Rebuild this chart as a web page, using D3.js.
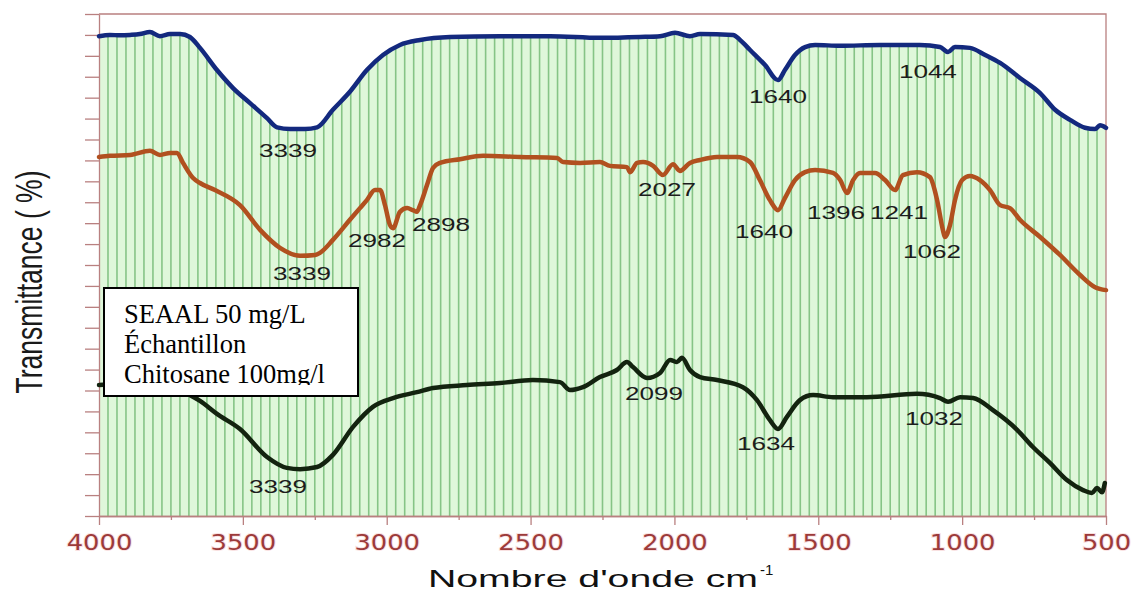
<!DOCTYPE html>
<html>
<head>
<meta charset="utf-8">
<script src="https://cdn.jsdelivr.net/npm/d3@7"></script>
<style>
  html, body { margin: 0; padding: 0; background: #fff; }
  #chart { width: 1133px; height: 593px; }
</style>
</head>
<body>
<div id="chart"></div>
<script>
// ---- data (wavenumber cm-1 / stacked transmittance units) ----
const blueWave = [4000, 3962, 3927, 3892, 3858, 3823, 3788, 3753, 3718, 3684, 3649, 3590, 3534, 3475, 3416, 3381, 3336, 3284, 3242, 3187, 3128, 3069, 3013, 2954, 2884, 2780, 2606, 2432, 2259, 2120, 2050, 1998, 1946, 1911, 1796, 1772, 1737, 1685, 1640, 1616, 1581, 1546, 1511, 1424, 1285, 1147, 1077, 1049, 1025, 973, 920, 868, 799, 729, 677, 625, 573, 538, 521, 500];
const blueValue = [114.7, 115.0, 114.9, 115.0, 115.2, 115.7, 114.7, 115.2, 115.2, 114.5, 111.9, 106.6, 102.3, 98.7, 95.1, 92.9, 92.5, 92.5, 92.9, 97.1, 101.4, 106.6, 110.2, 112.6, 113.8, 114.5, 114.7, 114.7, 114.3, 114.5, 114.7, 115.5, 114.7, 115.2, 115.0, 113.8, 111.4, 107.8, 104.2, 106.6, 110.2, 112.1, 112.6, 112.4, 112.6, 112.6, 112.1, 110.9, 112.1, 111.9, 110.2, 108.3, 104.7, 101.1, 97.1, 94.7, 92.8, 92.5, 93.4, 92.8];

const orangeWave = [4000, 3962, 3892, 3823, 3788, 3753, 3729, 3708, 3673, 3649, 3597, 3510, 3440, 3371, 3301, 3249, 3232, 3187, 3128, 3093, 3069, 3041, 3023, 3006, 2989, 2978, 2954, 2929, 2909, 2895, 2884, 2860, 2839, 2815, 2745, 2665, 2537, 2408, 2387, 2328, 2259, 2224, 2165, 2154, 2130, 2109, 2074, 2040, 2005, 1981, 1946, 1911, 1852, 1783, 1737, 1703, 1668, 1640, 1616, 1581, 1546, 1511, 1449, 1424, 1400, 1379, 1355, 1303, 1268, 1233, 1206, 1157, 1112, 1087, 1067, 1060, 1042, 1025, 1000, 973, 938, 903, 868, 834, 799, 729, 660, 590, 538, 500];
const orangeValue = [85.8, 86.1, 86.3, 87.3, 86.3, 86.8, 86.8, 84.4, 80.8, 79.6, 77.9, 74.3, 68.4, 64.1, 62.2, 62.4, 62.9, 66.0, 70.8, 73.6, 75.5, 77.9, 77.9, 74.3, 69.6, 68.8, 72.7, 73.6, 73.1, 72.7, 74.3, 79.1, 83.2, 84.4, 85.3, 86.1, 85.8, 85.6, 84.6, 84.4, 84.6, 83.7, 83.4, 82.2, 84.4, 84.6, 83.7, 81.5, 84.1, 82.5, 84.4, 85.1, 85.8, 85.8, 84.6, 80.3, 75.5, 73.1, 76.0, 80.3, 82.2, 82.7, 82.0, 80.3, 77.2, 80.3, 82.0, 82.0, 80.3, 77.9, 81.5, 82.2, 81.0, 75.5, 68.4, 66.7, 69.6, 75.5, 80.3, 81.3, 80.3, 77.9, 74.3, 73.6, 70.8, 66.7, 62.4, 57.6, 54.7, 54.0];

const blackWave = [4000, 3927, 3823, 3736, 3684, 3649, 3590, 3510, 3416, 3347, 3301, 3242, 3187, 3117, 3048, 2978, 2895, 2839, 2721, 2606, 2492, 2398, 2363, 2318, 2259, 2200, 2165, 2144, 2095, 2050, 2015, 1991, 1974, 1946, 1911, 1852, 1762, 1713, 1668, 1640, 1609, 1564, 1518, 1449, 1331, 1157, 1077, 1049, 1007, 962, 893, 809, 754, 695, 636, 580, 549, 531, 514, 504];
const blackValue = [31.3, 31.6, 32.0, 31.1, 28.9, 27.5, 24.4, 20.8, 14.1, 11.5, 11.2, 11.7, 14.6, 21.3, 26.1, 28.2, 29.6, 30.6, 31.3, 31.8, 32.5, 32.0, 30.1, 30.8, 33.2, 34.9, 36.8, 35.6, 33.0, 34.2, 37.3, 36.8, 37.8, 34.9, 33.2, 32.5, 30.8, 27.7, 22.9, 20.8, 23.7, 27.7, 28.9, 28.4, 28.4, 29.2, 28.2, 27.3, 28.4, 28.2, 25.3, 20.6, 16.5, 12.7, 8.6, 6.2, 5.5, 6.7, 5.7, 7.9];

// peak annotations: label text, wavenumber and value where the label sits
const peakText = ['3339', '1640', '1044', '3339', '2982', '2898', '2027', '1640', '1396', '1241', '1062', '3339', '2099', '1634', '1032'];
const peakWave = [3343, 1640, 1119, 3294, 3034, 2811, 2026, 1689, 1438, 1219, 1105, 3378, 2071, 1682, 1098];
const peakValue = [85.8, 98.7, 104.7, 56.4, 64.3, 68.1, 76.5, 66.5, 71.0, 71.0, 61.7, 5.5, 27.7, 15.8, 21.8];

const xMajorTicks = [4000, 3500, 3000, 2500, 2000, 1500, 1000, 500];
const xMinorTicks = [3750, 3250, 2750, 2250, 1750, 1250, 750];
const legendLines = ['SEAAL 50 mg/L', 'Échantillon', 'Chitosane 100mg/l'];

class Chart {
    constructor() {
        const attrs = {
            svgWidth: 1133,
            svgHeight: 593,
            marginTop: 14,
            marginBottom: 77,
            marginRight: 27,
            marginLeft: 99,
            container: '#chart',
            axisColor: '#b98080',
            tickTextColor: '#9c3a3a',
            fillColor: '#dff7da',
            stripeColor: '#86c486',
            xAxisTitle: "Nombre d'onde cm",
            yAxisTitle: 'Transmittance ( %)'
        };
        this.getState = () => attrs;
        this.setState = (d) => Object.assign(attrs, d);
        this.initializeEnterExitUpdatePattern();
    }

    initializeEnterExitUpdatePattern() {
        d3.selection.prototype.patternify = function (params) {
            var container = this;
            var selector = params.selector;
            var elementTag = params.tag;
            var data = params.data || [selector];
            var selection = container.selectAll('.' + selector).data(data, (d, i) => i);
            selection.exit().remove();
            selection = selection.enter().append(elementTag).merge(selection);
            selection.attr('class', selector);
            return selection;
        };
    }

    render() {
        this.calculateProperties();
        this.drawSvgAndWrappers();
        this.drawBackground();
        this.drawAxes();
        this.drawCurves();
        this.drawLabels();
        this.drawLegend();
    }

    calculateProperties() {
        const attrs = this.getState();
        const calc = {
            chartWidth: attrs.svgWidth - attrs.marginLeft - attrs.marginRight,
            chartHeight: attrs.svgHeight - attrs.marginTop - attrs.marginBottom
        };
        const xScale = d3.scaleLinear().domain([4000, 500]).range([0, calc.chartWidth]);
        const yScale = d3.scaleLinear().domain([0, 120]).range([calc.chartHeight, 0]);
        this.setState({ calc, xScale, yScale });
    }

    drawSvgAndWrappers() {
        const { container, svgWidth, svgHeight, marginLeft, marginTop } = this.getState();
        const svg = d3.select(container)
            .patternify({ tag: 'svg', selector: 'svg-chart-container' })
            .attr('width', svgWidth)
            .attr('height', svgHeight)
            .style('display', 'block');

        const defs = svg.patternify({ tag: 'defs', selector: 'defs' });
        const chart = svg.patternify({ tag: 'g', selector: 'chart' })
            .attr('transform', `translate(${marginLeft},${marginTop})`);

        this.setState({ svg, defs, chart });
    }

    drawBackground() {
        const { chart, defs, xScale, yScale, fillColor, stripeColor, calc } = this.getState();

        // green hatched region lies under the top spectrum
        const underBlue = d3.area()
            .x((d, i) => xScale(blueWave[i]))
            .y0(calc.chartHeight)
            .y1((d, i) => yScale(blueValue[i]))
            .curve(d3.curveMonotoneX);

        defs.patternify({ tag: 'clipPath', selector: 'under-blue-clip' })
            .attr('id', 'under-blue')
            .patternify({ tag: 'path', selector: 'under-blue-path' })
            .attr('d', underBlue(blueWave));

        const bg = chart.patternify({ tag: 'g', selector: 'background' })
            .attr('clip-path', 'url(#under-blue)');

        bg.patternify({ tag: 'rect', selector: 'bg-fill' })
            .attr('x', 0).attr('y', 0)
            .attr('width', calc.chartWidth)
            .attr('height', calc.chartHeight)
            .attr('fill', fillColor);

        const stripes = d3.range(4000 - 31.25, 500, -31.25);
        bg.patternify({ tag: 'line', selector: 'stripe', data: stripes })
            .attr('x1', d => xScale(d)).attr('x2', d => xScale(d))
            .attr('y1', 0).attr('y2', calc.chartHeight)
            .attr('stroke', stripeColor)
            .attr('stroke-width', 1.6);
    }

    drawAxes() {
        const { chart, svg, xScale, yScale, axisColor, tickTextColor, calc, xAxisTitle, yAxisTitle, marginTop } = this.getState();

        // frame (top + right)
        chart.patternify({ tag: 'path', selector: 'frame' })
            .attr('d', `M0,0H${calc.chartWidth}V${calc.chartHeight}`)
            .attr('fill', 'none')
            .attr('stroke', axisColor)
            .attr('stroke-width', 1.3);

        const xAxis = d3.axisBottom(xScale).tickValues(xMajorTicks).tickFormat(d3.format('d'))
            .tickSize(9).tickSizeOuter(0).tickPadding(9);
        const xMinor = d3.axisBottom(xScale).tickValues(xMinorTicks).tickSize(4).tickSizeOuter(0).tickFormat('');
        const yAxis = d3.axisLeft(yScale).tickValues(d3.range(0, 121, 5)).tickSize(14).tickSizeOuter(0).tickFormat('');

        const xWrap = chart.patternify({ tag: 'g', selector: 'x-axis' })
            .attr('transform', `translate(0,${calc.chartHeight})`)
            .call(xAxis);
        chart.patternify({ tag: 'g', selector: 'x-axis-minor' })
            .attr('transform', `translate(0,${calc.chartHeight})`)
            .call(xMinor);
        chart.patternify({ tag: 'g', selector: 'y-axis' }).call(yAxis);

        chart.selectAll('.x-axis, .x-axis-minor, .y-axis').selectAll('.domain, .tick line')
            .attr('stroke', axisColor)
            .attr('stroke-width', 1.3);

        xWrap.selectAll('text')
            .attr('fill', tickTextColor)
            .attr('font-family', '"DejaVu Sans", Verdana, sans-serif')
            .attr('font-size', 22)
            .attr('dy', '0.71em')
            .attr('textLength', d => String(d).length * 16.4)
            .attr('lengthAdjust', 'spacingAndGlyphs')
            .style('paint-order', 'stroke')
            .attr('stroke', 'rgba(240,170,170,0.35)')
            .attr('stroke-width', 2);

        // axis titles
        svg.patternify({ tag: 'text', selector: 'x-title' })
            .attr('x', 428)
            .attr('y', 587)
            .attr('font-family', '"Liberation Sans", Arial, sans-serif')
            .attr('font-size', 24)
            .attr('fill', '#111')
            .attr('textLength', 330)
            .attr('lengthAdjust', 'spacingAndGlyphs')
            .text(xAxisTitle);

        svg.patternify({ tag: 'text', selector: 'x-title-sup' })
            .attr('x', 760)
            .attr('y', 575)
            .attr('font-family', '"Liberation Sans", Arial, sans-serif')
            .attr('font-size', 15)
            .attr('fill', '#111')
            .text('-1');

        svg.patternify({ tag: 'text', selector: 'y-title' })
            .attr('transform', `translate(42,${marginTop + calc.chartHeight / 2 + 17}) rotate(-90)`)
            .attr('text-anchor', 'middle')
            .attr('font-family', '"Liberation Sans Narrow", "Liberation Sans", Arial, sans-serif')
            .attr('font-size', 37)
            .attr('fill', '#1a1a1a')
            .attr('textLength', 223)
            .attr('lengthAdjust', 'spacingAndGlyphs')
            .text(yAxisTitle);
    }

    drawCurves() {
        const { chart, xScale, yScale } = this.getState();
        const series = [
            { wave: blueWave, value: blueValue, color: '#13297e' },
            { wave: orangeWave, value: orangeValue, color: '#b1501f' },
            { wave: blackWave, value: blackValue, color: '#13230f' }
        ];
        const line = d3.line()
            .x(d => xScale(d[0]))
            .y(d => yScale(d[1]))
            .curve(d3.curveMonotoneX);

        chart.patternify({ tag: 'path', selector: 'spectrum', data: series })
            .attr('d', s => line(s.wave.map((w, i) => [w, s.value[i]])))
            .attr('fill', 'none')
            .attr('stroke', s => s.color)
            .attr('stroke-width', 4.5)
            .attr('stroke-linejoin', 'round')
            .attr('stroke-linecap', 'round');
    }

    drawLabels() {
        const { chart, xScale, yScale } = this.getState();
        const labels = peakText.map((t, i) => ({ t, w: peakWave[i], v: peakValue[i] }));
        chart.patternify({ tag: 'text', selector: 'peak-label', data: labels })
            .attr('x', d => xScale(d.w))
            .attr('y', d => yScale(d.v))
            .attr('text-anchor', 'middle')
            .attr('font-family', '"Liberation Sans", Arial, sans-serif')
            .attr('font-size', 19)
            .attr('fill', '#1c1c1c')
            .attr('textLength', 58)
            .attr('lengthAdjust', 'spacingAndGlyphs')
            .text(d => d.t);
    }

    drawLegend() {
        const { chart, defs } = this.getState();
        const box = { x: 5, y: 274, w: 254, h: 108 };

        defs.patternify({ tag: 'clipPath', selector: 'legend-clip' })
            .attr('id', 'legend-text-clip')
            .patternify({ tag: 'rect', selector: 'legend-clip-rect' })
            .attr('x', box.x).attr('y', box.y)
            .attr('width', box.w).attr('height', 97);

        const legend = chart.patternify({ tag: 'g', selector: 'legend' });
        legend.patternify({ tag: 'rect', selector: 'legend-box' })
            .attr('x', box.x).attr('y', box.y)
            .attr('width', box.w).attr('height', box.h)
            .attr('fill', '#fff')
            .attr('stroke', '#000')
            .attr('stroke-width', 2);

        legend.patternify({ tag: 'g', selector: 'legend-texts' })
            .attr('clip-path', 'url(#legend-text-clip)')
            .patternify({ tag: 'text', selector: 'legend-text', data: legendLines })
            .attr('x', box.x + 20)
            .attr('y', (d, i) => box.y + 35 + i * 30)
            .attr('font-family', '"Liberation Serif", "Times New Roman", serif')
            .attr('font-size', 26.5)
            .attr('fill', '#000')
            .text(d => d);
    }
}

new Chart().render();
</script>
</body>
</html>
